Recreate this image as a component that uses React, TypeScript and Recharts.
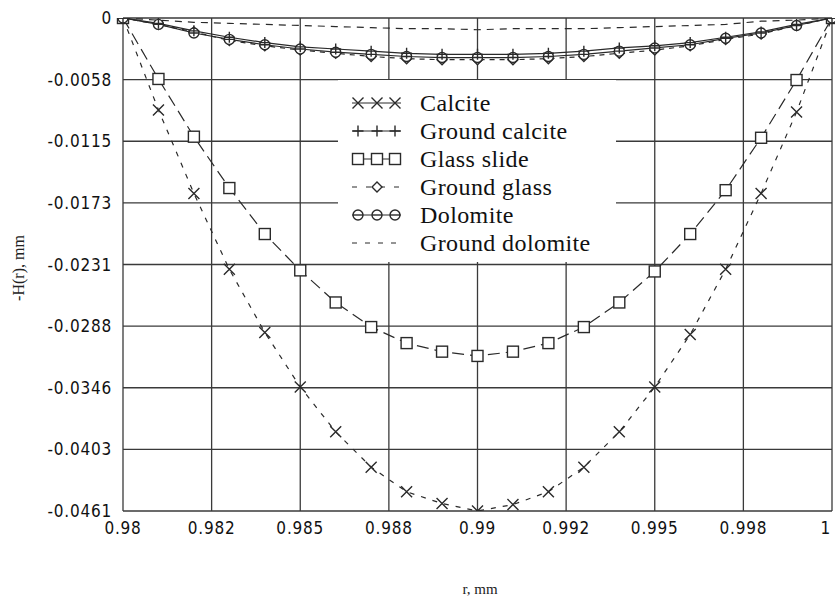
import { LineChart, Line, XAxis, YAxis, CartesianGrid, Legend, Label } from "recharts"

// radius samples (mm)
const rValues = [
  0.98, 0.981, 0.982, 0.983, 0.984, 0.985, 0.986, 0.987, 0.988, 0.989, 0.99,
  0.991, 0.992, 0.993, 0.994, 0.995, 0.996, 0.997, 0.998, 0.999, 1.0,
]

// -H(r) per surface, mm
const calcite = [
  0, -0.0086, -0.0164, -0.0235, -0.0294, -0.0345, -0.0387, -0.042, -0.0443, -0.0454, -0.0461,
  -0.0455, -0.0443, -0.042, -0.0387, -0.0345, -0.0296, -0.0235, -0.0164, -0.0088, 0,
]
const groundCalcite = [
  0, -0.0005, -0.0012, -0.0018, -0.0023, -0.0027, -0.0029, -0.0031, -0.0033, -0.0034, -0.0034,
  -0.0034, -0.0033, -0.0031, -0.0028, -0.0026, -0.0023, -0.0018, -0.0013, -0.0006, 0,
]
const glassSlide = [
  0, -0.0057, -0.0111, -0.0159, -0.0202, -0.0236, -0.0266, -0.0289, -0.0304, -0.0312, -0.0316,
  -0.0312, -0.0304, -0.0289, -0.0266, -0.0237, -0.0202, -0.0161, -0.0112, -0.0058, 0,
]
const groundGlass = [
  0, -0.0006, -0.0013, -0.0021, -0.0026, -0.003, -0.0033, -0.0036, -0.0038, -0.0039, -0.0039,
  -0.0039, -0.0038, -0.0036, -0.0033, -0.003, -0.0026, -0.002, -0.0015, -0.0007, 0,
]
const dolomite = [
  0, -0.0006, -0.0014, -0.002, -0.0025, -0.0029, -0.0032, -0.0034, -0.0036, -0.0037, -0.0037,
  -0.0037, -0.0036, -0.0034, -0.0031, -0.0028, -0.0025, -0.0019, -0.0014, -0.0007, 0,
]
const groundDolomite = [
  0, -0.0002, -0.0004, -0.0005, -0.0006, -0.0007, -0.0008, -0.0009, -0.001, -0.001, -0.0011,
  -0.001, -0.001, -0.001, -0.0009, -0.0008, -0.0007, -0.0006, -0.0003, -0.0002, 0,
]

const xTicks = [0.98, 0.9825, 0.985, 0.9875, 0.99, 0.9925, 0.995, 0.9975, 1.0]
const xTickLabels = ["0.98", "0.982", "0.985", "0.988", "0.99", "0.992", "0.995", "0.998", "1"]
const yTicks = [0, -0.0057625, -0.011525, -0.0172875, -0.02305, -0.0288125, -0.034575, -0.0403375, -0.0461]
const yTickLabels = ["0", "-0.0058", "-0.0115", "-0.0173", "-0.0231", "-0.0288", "-0.0346", "-0.0403", "-0.0461"]

const seriesNames = ["Calcite", "Ground calcite", "Glass slide", "Ground glass", "Dolomite", "Ground dolomite"]

const chartData = rValues.map((r, i) => ({
  r,
  calcite: calcite[i],
  groundCalcite: groundCalcite[i],
  glassSlide: glassSlide[i],
  groundGlass: groundGlass[i],
  dolomite: dolomite[i],
  groundDolomite: groundDolomite[i],
}))

const INK = "#2a2a2a"
const tickFont = "'DejaVu Sans Condensed', 'Liberation Sans Narrow', 'Liberation Sans', sans-serif"
const serifFont = "'Liberation Serif', 'DejaVu Serif', serif"

type MarkKind = "cross" | "plus" | "square" | "diamond" | "circle" | "none"

function Mark({ kind, cx, cy }: { kind: MarkKind; cx: number; cy: number }) {
  const common = { stroke: INK, strokeWidth: 1.4, fill: "none" }
  if (kind === "cross") {
    const s = 5.5
    return <path d={`M${cx - s},${cy - s}L${cx + s},${cy + s}M${cx - s},${cy + s}L${cx + s},${cy - s}`} {...common} />
  }
  if (kind === "plus") {
    const s = 5.5
    return <path d={`M${cx - s},${cy}L${cx + s},${cy}M${cx},${cy - s}L${cx},${cy + s}`} {...common} />
  }
  if (kind === "square") {
    const s = 5.5
    return <rect x={cx - s} y={cy - s} width={2 * s} height={2 * s} {...common} fill="#fff" />
  }
  if (kind === "diamond") {
    const s = 5
    return <path d={`M${cx},${cy - s}L${cx + s},${cy}L${cx},${cy + s}L${cx - s},${cy}Z`} {...common} fill="#fff" />
  }
  if (kind === "circle") {
    return (
      <g>
        <circle cx={cx} cy={cy} r={5} {...common} fill="#fff" />
        <path d={`M${cx - 5},${cy}L${cx + 5},${cy}`} {...common} />
      </g>
    )
  }
  return null
}

const dotFor = (kind: MarkKind, name: string) => (props: any) => {
  if (props.cx == null || props.cy == null) return <g key={`${name}-${props.index}`} />
  return (
    <g key={`${name}-${props.index}`}>
      <Mark kind={kind} cx={props.cx} cy={props.cy} />
    </g>
  )
}

// x tick: the last label ("1") sits on the right border, pull it inside
function XTick(props: any) {
  const { x, y, payload, index } = props
  const last = index === xTicks.length - 1
  return (
    <text
      x={last ? x - 1 : x}
      y={y}
      dy="0.71em"
      textAnchor={last ? "end" : "middle"}
      fontFamily={tickFont}
      fontSize={17}
      letterSpacing={0.8}
      fill="#111"
    >
      {xTickLabels[xTicks.indexOf(payload.value)]}
    </text>
  )
}

const legendRows: { kind: MarkKind; dash?: string; marks: number[] }[] = [
  { kind: "cross", marks: [20, 39, 57] },
  { kind: "plus", marks: [20, 39, 57] },
  { kind: "square", marks: [20, 39, 57] },
  { kind: "diamond", dash: "5 9", marks: [39] },
  { kind: "circle", marks: [20, 39, 57] },
  { kind: "none", dash: "5 8", marks: [] },
]

function LegendBox() {
  return (
    <svg width={278} height={182} style={{ display: "block", background: "#fff" }}>
      {legendRows.map((row, i) => {
        const y = 23 + i * 28
        return (
          <g key={seriesNames[i]}>
            <line x1={14} x2={63} y1={y} y2={y} stroke={INK} strokeWidth={1} strokeDasharray={row.dash} />
            {row.marks.map((mx) => (
              <Mark key={mx} kind={row.kind} cx={mx} cy={y} />
            ))}
            <text x={82} y={y + 8} fontFamily={serifFont} fontSize={24} letterSpacing={0.4} fill="#111">
              {seriesNames[i]}
            </text>
          </g>
        )
      })}
    </svg>
  )
}

export default function App() {
  return (
    <div style={{ position: "absolute", left: 0, top: 0, width: 835, height: 599, background: "#fff" }}>
      <LineChart width={835} height={599} data={chartData} margin={{ top: 18, right: 3, bottom: 0, left: 0 }}>
        <CartesianGrid stroke="#3a3a3a" strokeWidth={1.3} />
        <XAxis
          dataKey="r"
          type="number"
          domain={[0.98, 1.0]}
          ticks={xTicks}
          interval={0}
          height={88}
          axisLine={false}
          tickLine={false}
          tickMargin={5}
          tick={<XTick />}
        >
          <Label
            content={() => (
              <text x={480} y={594} textAnchor="middle" fontFamily={serifFont} fontSize={15} fill="#222">
                r, mm
              </text>
            )}
          />
        </XAxis>
        <YAxis
          type="number"
          domain={[-0.0461, 0]}
          ticks={yTicks}
          interval={0}
          width={123}
          allowDataOverflow
          axisLine={false}
          tickLine={false}
          tickMargin={5}
          tick={{ fontSize: 17, fill: "#111", fontFamily: tickFont, letterSpacing: 0.8 }}
          tickFormatter={(v: number) => yTickLabels[yTicks.indexOf(v)]}
        >
          <Label
            content={() => (
              <text
                x={20}
                y={268}
                transform="rotate(-90 20 268)"
                textAnchor="middle"
                dominantBaseline="middle"
                fontFamily={serifFont}
                fontSize={16}
                fill="#222"
              >
                -H(r), mm
              </text>
            )}
          />
        </YAxis>
        <Legend
          layout="vertical"
          align="center"
          verticalAlign="middle"
          content={() => <LegendBox />}
          wrapperStyle={{ position: "absolute", left: 338, top: 80, width: 278, height: 182 }}
        />
        <Line
          dataKey="calcite"
          type="linear"
          stroke={INK}
          strokeWidth={1.2}
          strokeDasharray="5 7"
          dot={dotFor("cross", "calcite")}
          isAnimationActive={false}
        />
        <Line
          dataKey="glassSlide"
          type="linear"
          stroke={INK}
          strokeWidth={1.2}
          strokeDasharray="12 6"
          dot={dotFor("square", "glass")}
          isAnimationActive={false}
        />
        <Line
          dataKey="groundDolomite"
          type="linear"
          stroke={INK}
          strokeWidth={1.2}
          strokeDasharray="7 6"
          dot={false}
          isAnimationActive={false}
        />
        <Line
          dataKey="groundGlass"
          type="linear"
          stroke={INK}
          strokeWidth={1.2}
          strokeDasharray="5 5"
          dot={dotFor("diamond", "groundGlass")}
          isAnimationActive={false}
        />
        <Line
          dataKey="dolomite"
          type="linear"
          stroke={INK}
          strokeWidth={1.2}
          dot={dotFor("circle", "dolomite")}
          isAnimationActive={false}
        />
        <Line
          dataKey="groundCalcite"
          type="linear"
          stroke={INK}
          strokeWidth={1.2}
          dot={dotFor("plus", "groundCalcite")}
          isAnimationActive={false}
        />
      </LineChart>
    </div>
  )
}
